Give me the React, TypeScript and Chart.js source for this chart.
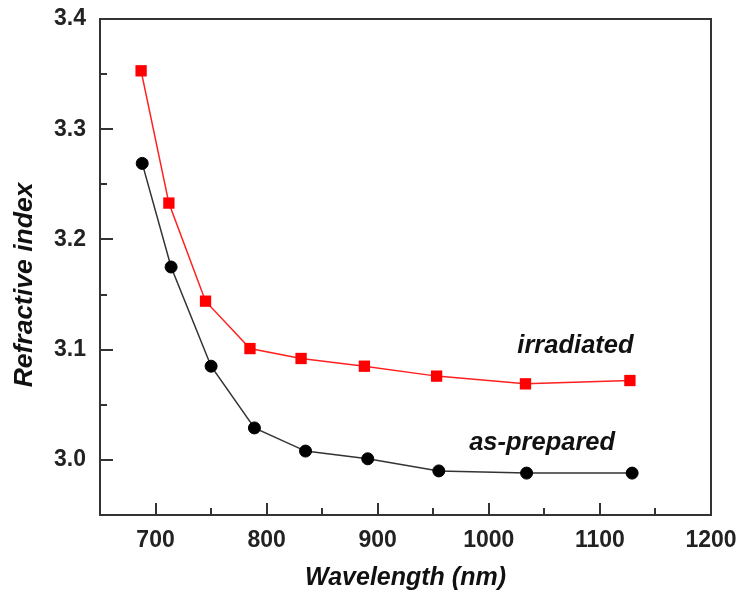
import React, { useEffect, useRef } from "react";
import { Chart, registerables } from "chart.js";

Chart.register(...registerables);

const wavelengthIrradiated = [687, 712, 745, 785, 831, 888, 953, 1033, 1127];
const irradiated = [3.353, 3.233, 3.144, 3.101, 3.092, 3.085, 3.076, 3.069, 3.072];
const wavelengthAsPrepared = [688, 714, 750, 789, 835, 891, 955, 1034, 1129];
const asPrepared = [3.269, 3.175, 3.085, 3.029, 3.008, 3.001, 2.99, 2.988, 2.988];

const xTicks = [700, 800, 900, 1000, 1100, 1200];
const yTicks = [3.0, 3.1, 3.2, 3.3, 3.4];
const xMinorTicks = [750, 850, 950, 1050, 1150];
const yMinorTicks = [3.05, 3.15, 3.25, 3.35];

const xTitle = "Wavelength (nm)";
const yTitle = "Refractive index";
const labelIrradiated = "irradiated";
const labelAsPrepared = "as-prepared";

const FONT = "'Liberation Sans', Arial, sans-serif";

const framePlugin = {
  id: "frame",
  beforeDatasetsDraw(chart: any) {
    const { ctx, chartArea } = chart;
    const xs = chart.scales.x;
    const ys = chart.scales.y;
    ctx.save();
    ctx.strokeStyle = "#333";
    ctx.lineWidth = 2;
    ctx.strokeRect(chartArea.left, chartArea.top, chartArea.right - chartArea.left, chartArea.bottom - chartArea.top);
    ctx.lineWidth = 2;
    ctx.beginPath();
    xTicks.forEach((v) => {
      const px = Math.round(xs.getPixelForValue(v));
      ctx.moveTo(px, chartArea.bottom);
      ctx.lineTo(px, chartArea.bottom - 12);
    });
    xMinorTicks.forEach((v) => {
      const px = Math.round(xs.getPixelForValue(v));
      ctx.moveTo(px, chartArea.bottom);
      ctx.lineTo(px, chartArea.bottom - 7);
    });
    yTicks.forEach((v) => {
      const py = Math.round(ys.getPixelForValue(v));
      ctx.moveTo(chartArea.left, py);
      ctx.lineTo(chartArea.left + 13, py);
    });
    yMinorTicks.forEach((v) => {
      const py = Math.round(ys.getPixelForValue(v));
      ctx.moveTo(chartArea.left, py);
      ctx.lineTo(chartArea.left + 7, py);
    });
    ctx.stroke();
    ctx.restore();
  },
  afterDraw(chart: any) {
    const { ctx, chartArea } = chart;
    const xs = chart.scales.x;
    const ys = chart.scales.y;
    ctx.save();
    ctx.fillStyle = "#111";
    ctx.font = `italic bold 25px ${FONT}`;
    ctx.textAlign = "center";
    ctx.textBaseline = "middle";
    ctx.fillText(xTitle, (chartArea.left + chartArea.right) / 2, 578);
    ctx.save();
    ctx.translate(25, 285);
    ctx.rotate(-Math.PI / 2);
    ctx.font = `italic bold 26.5px ${FONT}`;
    ctx.fillText(yTitle, 0, 0);
    ctx.restore();
    ctx.font = `italic bold 25.5px ${FONT}`;
    ctx.fillText(labelIrradiated, xs.getPixelForValue(1078), ys.getPixelForValue(3.103));
    ctx.fillText(labelAsPrepared, xs.getPixelForValue(1048), ys.getPixelForValue(3.0155));
    ctx.restore();
  },
};

export default function App() {
  const canvasRef = useRef<HTMLCanvasElement>(null);

  useEffect(() => {
    const canvas = canvasRef.current;
    if (!canvas) return;
    const chart = new Chart(canvas, {
      type: "line",
      data: {
        datasets: [
          {
            label: "irradiated",
            data: wavelengthIrradiated.map((x, i) => ({ x, y: irradiated[i] })),
            borderColor: "#ff2020",
            backgroundColor: "#ff0000",
            pointBackgroundColor: "#ff0000",
            pointBorderColor: "#ff0000",
            borderWidth: 1.5,
            pointStyle: "rect",
            pointRadius: 8,
            pointBorderWidth: 0,
            tension: 0,
          },
          {
            label: "as-prepared",
            data: wavelengthAsPrepared.map((x, i) => ({ x, y: asPrepared[i] })),
            borderColor: "#333",
            backgroundColor: "#000",
            pointBackgroundColor: "#000",
            pointBorderColor: "#000",
            borderWidth: 1.5,
            pointStyle: "circle",
            pointRadius: 6,
            pointBorderWidth: 1,
            tension: 0,
          },
        ],
      },
      options: {
        animation: false,
        responsive: false,
        maintainAspectRatio: false,
        layout: { padding: { top: 19, right: 28, left: 0, bottom: 0 } },
        plugins: { legend: { display: false }, tooltip: { enabled: false } },
        scales: {
          x: {
            type: "linear",
            min: 650,
            max: 1200,
            afterBuildTicks: (scale: any) => {
              scale.ticks = xTicks.map((v) => ({ value: v }));
            },
            afterFit: (scale: any) => {
              scale.height = 76;
              scale.paddingLeft = 0;
              scale.paddingRight = 0;
              scale.paddingTop = 0;
              scale.paddingBottom = 0;
            },
            grid: { display: false, drawTicks: false },
            border: { display: false },
            ticks: {
              padding: 12,
              color: "#222",
              font: { family: FONT, size: 23, weight: "bold" },
              maxRotation: 0,
              autoSkip: false,
              callback: (v: any) => String(v),
            },
          },
          y: {
            type: "linear",
            min: 2.95,
            max: 3.4,
            afterBuildTicks: (scale: any) => {
              scale.ticks = yTicks.map((v) => ({ value: v }));
            },
            afterFit: (scale: any) => {
              scale.width = 100;
              scale.paddingLeft = 0;
              scale.paddingRight = 0;
              scale.paddingTop = 0;
              scale.paddingBottom = 0;
            },
            grid: { display: false, drawTicks: false },
            border: { display: false },
            ticks: {
              padding: 14,
              color: "#222",
              font: { family: FONT, size: 23, weight: "bold" },
              callback: (v: any) => Number(v).toFixed(1),
            },
          },
        },
      },
      plugins: [framePlugin],
    } as any);
    return () => chart.destroy();
  }, []);

  return (
    <div style={{ position: "fixed", left: 0, top: 0, width: 739, height: 591, background: "#fff" }}>
      <canvas ref={canvasRef} width={739} height={591} style={{ width: 739, height: 591 }} />
    </div>
  );
}
